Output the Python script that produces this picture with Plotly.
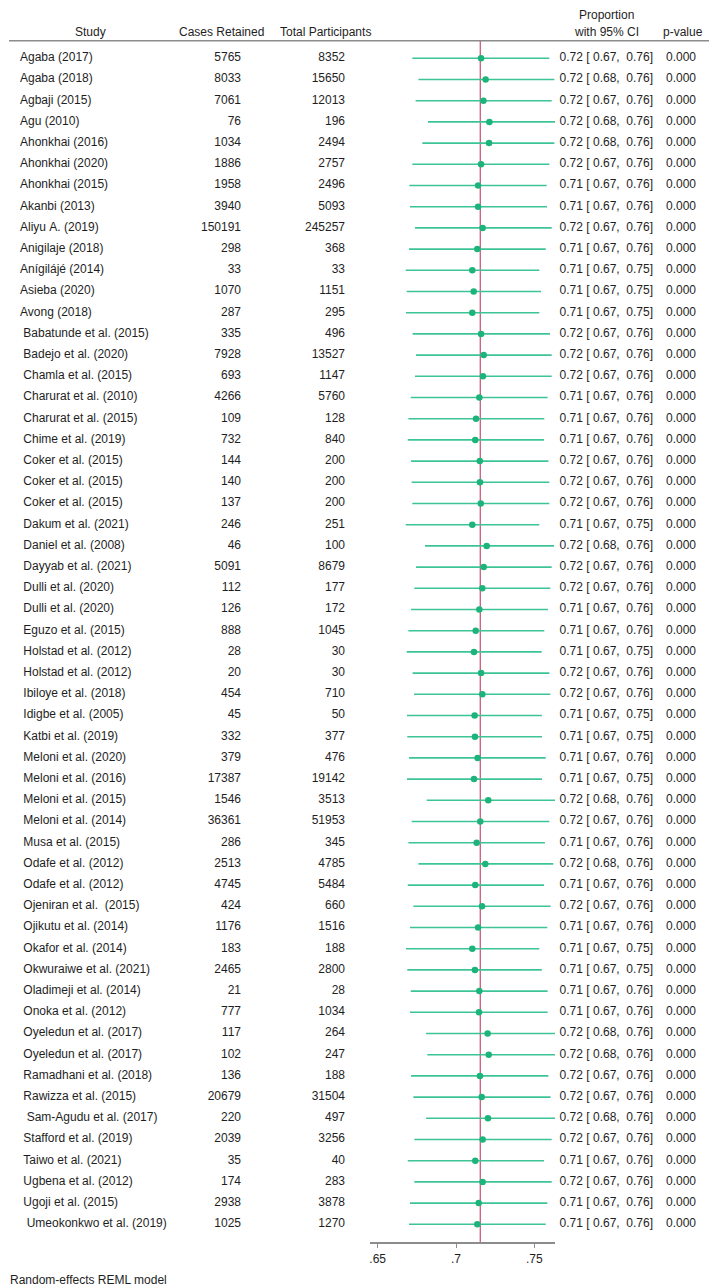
import plotly.graph_objects as go

# Page is rendered with the browser's default 8px body margin; compensate.
OFF = 8
W, H = 718 - OFF, 1288 - OFF

studies = [
    "Agaba (2017)", "Agaba (2018)", "Agbaji (2015)", "Agu (2010)", "Ahonkhai (2016)",
    "Ahonkhai (2020)", "Ahonkhai (2015)", "Akanbi (2013)", "Aliyu A. (2019)", "Anigilaje (2018)",
    "Anígilájé (2014)", "Asieba (2020)", "Avong (2018)", " Babatunde et al. (2015)", " Badejo et al. (2020)",
    " Chamla et al. (2015)", " Charurat et al. (2010)", " Charurat et al. (2015)", " Chime et al. (2019)", " Coker et al. (2015)",
    " Coker et al. (2015)", " Coker et al. (2015)", " Dakum et al. (2021)", " Daniel et al. (2008)", " Dayyab et al. (2021)",
    " Dulli et al. (2020)", " Dulli et al. (2020)", " Eguzo et al. (2015)", " Holstad et al. (2012)", " Holstad et al. (2012)",
    " Ibiloye et al. (2018)", " Idigbe et al. (2005)", " Katbi et al. (2019)", " Meloni et al. (2020)", " Meloni et al. (2016)",
    " Meloni et al. (2015)", " Meloni et al. (2014)", " Musa et al. (2015)", " Odafe et al. (2012)", " Odafe et al. (2012)",
    " Ojeniran et al.  (2015)", " Ojikutu et al. (2014)", " Okafor et al. (2014)", " Okwuraiwe et al. (2021)", " Oladimeji et al. (2014)",
    " Onoka et al. (2012)", " Oyeledun et al. (2017)", " Oyeledun et al. (2017)", " Ramadhani et al. (2018)", " Rawizza et al. (2015)",
    "  Sam-Agudu et al. (2017)", " Stafford et al. (2019)", " Taiwo et al. (2021)", " Ugbena et al. (2012)", " Ugoji et al. (2015)",
    "  Umeokonkwo et al. (2019)",
]

cases_retained = [
    5765, 8033, 7061, 76, 1034, 1886, 1958, 3940, 150191, 298,
    33, 1070, 287, 335, 7928, 693, 4266, 109, 732, 144,
    140, 137, 246, 46, 5091, 112, 126, 888, 28, 20,
    454, 45, 332, 379, 17387, 1546, 36361, 286, 2513, 4745,
    424, 1176, 183, 2465, 21, 777, 117, 102, 136, 20679,
    220, 2039, 35, 174, 2938, 1025,
]

total_participants = [
    8352, 15650, 12013, 196, 2494, 2757, 2496, 5093, 245257, 368,
    33, 1151, 295, 496, 13527, 1147, 5760, 128, 840, 200,
    200, 200, 251, 100, 8679, 177, 172, 1045, 30, 30,
    710, 50, 377, 476, 19142, 3513, 51953, 345, 4785, 5484,
    660, 1516, 188, 2800, 28, 1034, 264, 247, 188, 31504,
    497, 3256, 40, 283, 3878, 1270,
]

proportion = [
    0.7160, 0.7189, 0.7175, 0.7213, 0.7211, 0.7160, 0.7141, 0.7141, 0.7170, 0.7136,
    0.7104, 0.7113, 0.7104, 0.7160, 0.7177, 0.7172, 0.7149, 0.7128, 0.7123, 0.7152,
    0.7153, 0.7158, 0.7104, 0.7196, 0.7177, 0.7168, 0.7149, 0.7126, 0.7115, 0.7160,
    0.7168, 0.7119, 0.7121, 0.7138, 0.7115, 0.7206, 0.7155, 0.7132, 0.7187, 0.7123,
    0.7166, 0.7141, 0.7104, 0.7121, 0.7149, 0.7147, 0.7202, 0.7209, 0.7153, 0.7164,
    0.7204, 0.7170, 0.7123, 0.7170, 0.7145, 0.7136,
]

ci_lower = [
    0.6721, 0.6760, 0.6742, 0.6821, 0.6785, 0.6721, 0.6702, 0.6706, 0.6738, 0.6700,
    0.6679, 0.6685, 0.6681, 0.6723, 0.6745, 0.6738, 0.6711, 0.6696, 0.6692, 0.6713,
    0.6717, 0.6721, 0.6679, 0.6802, 0.6745, 0.6734, 0.6713, 0.6696, 0.6685, 0.6723,
    0.6732, 0.6687, 0.6689, 0.6700, 0.6687, 0.6813, 0.6717, 0.6696, 0.6760, 0.6692,
    0.6728, 0.6706, 0.6681, 0.6689, 0.6711, 0.6706, 0.6809, 0.6817, 0.6713, 0.6728,
    0.6809, 0.6734, 0.6692, 0.6734, 0.6706, 0.6700,
]

ci_upper = [
    0.7596, 0.7628, 0.7611, 0.7632, 0.7628, 0.7596, 0.7579, 0.7581, 0.7611, 0.7573,
    0.7532, 0.7543, 0.7532, 0.7600, 0.7611, 0.7611, 0.7585, 0.7564, 0.7562, 0.7590,
    0.7596, 0.7596, 0.7532, 0.7626, 0.7611, 0.7602, 0.7587, 0.7564, 0.7547, 0.7596,
    0.7602, 0.7548, 0.7549, 0.7573, 0.7549, 0.7632, 0.7596, 0.7568, 0.7621, 0.7562,
    0.7604, 0.7583, 0.7532, 0.7548, 0.7585, 0.7585, 0.7632, 0.7632, 0.7590, 0.7604,
    0.7632, 0.7611, 0.7562, 0.7611, 0.7583, 0.7573,
]

p_values = [
    0.000, 0.000, 0.000, 0.000, 0.000, 0.000, 0.000, 0.000, 0.000, 0.000,
    0.000, 0.000, 0.000, 0.000, 0.000, 0.000, 0.000, 0.000, 0.000, 0.000,
    0.000, 0.000, 0.000, 0.000, 0.000, 0.000, 0.000, 0.000, 0.000, 0.000,
    0.000, 0.000, 0.000, 0.000, 0.000, 0.000, 0.000, 0.000, 0.000, 0.000,
    0.000, 0.000, 0.000, 0.000, 0.000, 0.000, 0.000, 0.000, 0.000, 0.000,
    0.000, 0.000, 0.000, 0.000, 0.000, 0.000,
]

overall_estimate = 0.7155
x_tick_values = [0.65, 0.70, 0.75]
x_tick_labels = [".65", ".7", ".75"]

# ---------------------------------------------------------------- styling
FONT = "Liberation Sans, Arial, Helvetica, sans-serif"
TXT = "#1e1e1e"
GREEN_LINE = "#3cc497"
GREEN_DOT = "#1db47c"
RED = "#c4506e"
AXIS = "#8c8c8c"
FS = 12

n = len(studies)
rows = list(range(1, n + 1))


def nb(s):
    return s.replace(" ", "\u00a0")


ci_text = [nb(f"{e:.2f} [{l:5.2f}, {u:5.2f}]") for e, l, u in zip(proportion, ci_lower, ci_upper)]
p_text = [f"{p:.3f}" for p in p_values]


# target-page pixel -> figure coordinates
def fx(p):
    return p - OFF


def px_x(p):
    return (p - OFF) / W


def px_y(p):
    return 1 - (p - OFF) / H


row0_px, row_step = 58.3, 21.2
top_px, bottom_px = 40.7, 1242.3
y_top = 1 + (top_px - row0_px) / row_step
y_bottom = 1 + (bottom_px - row0_px) / row_step

x_left_px, x_right_px = 369.9, 555.4
ppu = 1566.0  # pixels per unit, 0.70 sits at page x 456
x_range = [0.70 + (x_left_px - 456) / ppu, 0.70 + (x_right_px - 456) / ppu]

fig = go.Figure()

# text columns on a pixel-based helper axis
def text_col(xpx, texts, pos):
    fig.add_trace(go.Scatter(
        x=[fx(xpx)] * n, y=rows, mode="text", text=texts, textposition=pos,
        textfont=dict(family=FONT, size=FS, color=TXT),
        xaxis="x2", yaxis="y", hoverinfo="skip", showlegend=False, cliponaxis=False,
    ))


text_col(20, [nb(s) for s in studies], "middle right")
text_col(241, [str(v) for v in cases_retained], "middle left")
text_col(345, [str(v) for v in total_participants], "middle left")
text_col(653, ci_text, "middle left")
text_col(696, p_text, "middle left")

# CI + points
fig.add_trace(go.Scatter(
    x=proportion, y=rows, mode="markers",
    marker=dict(color=GREEN_DOT, size=6.5),
    error_x=dict(type="data", symmetric=False,
                 array=[u - e for u, e in zip(ci_upper, proportion)],
                 arrayminus=[e - l for e, l in zip(proportion, ci_lower)],
                 color=GREEN_LINE, thickness=1.6, width=0),
    xaxis="x", yaxis="y", hoverinfo="skip", showlegend=False,
))

# header
headers = [
    ("Study", 90, 32),
    ("Cases Retained", 221, 32),
    ("Total Participants", 325, 32),
    ("Proportion", 606, 15),
    ("with 95% CI", 606, 32),
    ("p-value", 683, 32),
]
annotations = []
for t, xp, yp in headers:
    annotations.append(dict(text=t, x=px_x(xp), y=px_y(yp), xref="paper", yref="paper",
                            xanchor="center", yanchor="middle", showarrow=False,
                            font=dict(family=FONT, size=FS, color=TXT)))
annotations.append(dict(text="Random-effects REML model", x=0, y=px_y(1280),
                        xref="paper", yref="paper", xanchor="left", yanchor="middle",
                        showarrow=False, font=dict(family=FONT, size=FS, color=TXT)))

shapes = [
    dict(type="line", xref="paper", yref="paper", x0=px_x(9), x1=px_x(709),
         y0=px_y(top_px), y1=px_y(top_px), line=dict(color=AXIS, width=1.6)),
    dict(type="line", xref="x", yref="paper", x0=overall_estimate, x1=overall_estimate,
         y0=px_y(bottom_px), y1=px_y(top_px), line=dict(color=RED, width=1.2),
         layer="below"),
]

fig.update_layout(
    width=W, height=H,
    margin=dict(l=0, r=0, t=0, b=0),
    paper_bgcolor="white", plot_bgcolor="rgba(0,0,0,0)",
    font=dict(family=FONT, size=FS, color=TXT),
    annotations=annotations, shapes=shapes,
    xaxis=dict(domain=[px_x(x_left_px), px_x(x_right_px)], range=x_range,
               anchor="y", showgrid=False, zeroline=False,
               showline=True, linecolor=AXIS, linewidth=1.6,
               ticks="outside", ticklen=4, tickwidth=1, tickcolor=AXIS,
               tickvals=x_tick_values, ticktext=x_tick_labels,
               tickfont=dict(family=FONT, size=FS, color=TXT)),
    xaxis2=dict(domain=[0, 1], range=[0, W], anchor="y", visible=False,
                showgrid=False, zeroline=False),
    yaxis=dict(domain=[px_y(bottom_px), px_y(top_px)], range=[y_bottom, y_top],
               anchor="x", visible=False, showgrid=False, zeroline=False),
)

fig.write_html("out.html")
